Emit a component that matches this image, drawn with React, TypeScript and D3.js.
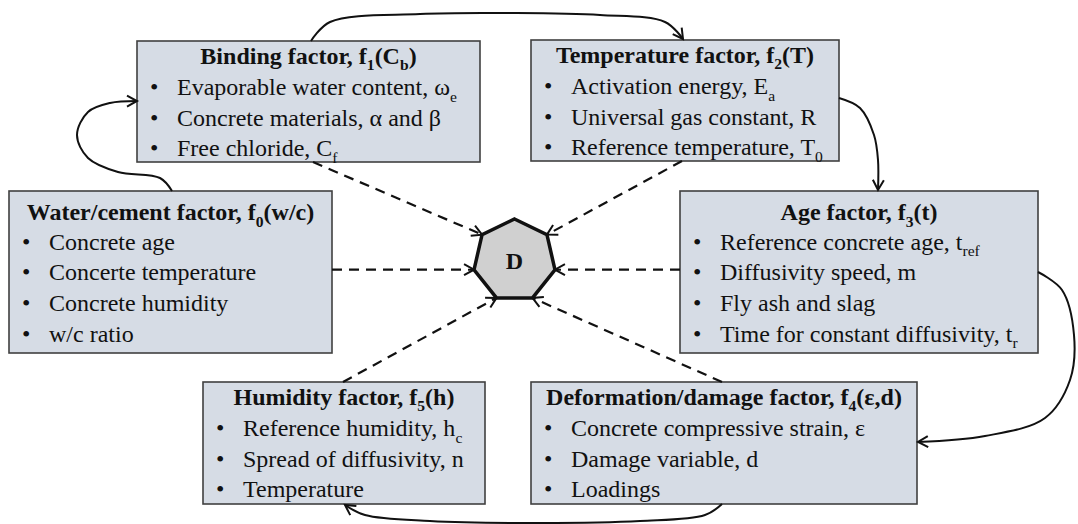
import React from "react";
import * as d3 from "d3";

// ---- Diagram content ----
const boxIds = ["water", "binding", "temperature", "age", "deformation", "humidity"];
const boxTitles = [
  "Water/cement factor, f_{0}(w/c)",
  "Binding factor, f_{1}(C_{b})",
  "Temperature factor, f_{2}(T)",
  "Age factor, f_{3}(t)",
  "Deformation/damage factor, f_{4}(ε,d)",
  "Humidity factor, f_{5}(h)",
];
const waterItems = ["Concrete age", "Concerte temperature", "Concrete humidity", "w/c ratio"];
const bindingItems = ["Evaporable water content, ω_{e}", "Concrete materials, α and β", "Free chloride, C_{f}"];
const temperatureItems = ["Activation energy, E_{a}", "Universal gas constant, R", "Reference temperature, T_{0}"];
const ageItems = ["Reference concrete age, t_{ref}", "Diffusivity speed, m", "Fly ash and slag", "Time for constant diffusivity, t_{r}"];
const deformationItems = ["Concrete compressive strain, ε", "Damage variable, d", "Loadings"];
const humidityItems = ["Reference humidity, h_{c}", "Spread of diffusivity, n", "Temperature"];
const boxItems = [waterItems, bindingItems, temperatureItems, ageItems, deformationItems, humidityItems];
const centerLabel = "D";

// ---- Layout (pixels) ----
const W = 1078, H = 524;
const layout: Record<string, { x0: number; y0: number; x1: number; y1: number }> = {
  water: { x0: 9, y0: 191, x1: 332, y1: 353 },
  binding: { x0: 137, y0: 41, x1: 480, y1: 162 },
  temperature: { x0: 531, y0: 40, x1: 839, y1: 161 },
  age: { x0: 680, y0: 191, x1: 1038, y1: 353 },
  deformation: { x0: 531, y0: 382, x1: 917, y1: 504 },
  humidity: { x0: 203, y0: 382, x1: 485, y1: 504 },
};
const hept = { cx: 514.5, cy: 260.5, r: 41.5 };
const FONT = "Liberation Serif";
const FS = 24;

function heptVertex(k: number): [number, number] {
  const a = -Math.PI / 2 + (k * 2 * Math.PI) / 7;
  return [hept.cx + hept.r * Math.cos(a), hept.cy + hept.r * Math.sin(a)];
}

const dashedLinks: { from: [number, number]; v: number }[] = [
  { from: [313, 162], v: 6 },
  { from: [682, 161], v: 1 },
  { from: [332, 269.6], v: 5 },
  { from: [680, 269.6], v: 2 },
  { from: [343, 382], v: 4 },
  { from: [722, 382], v: 3 },
];

const cyclePaths: [number, number][][] = [
  [[172, 191], [160, 178], [118, 172], [88, 158], [77, 135], [88, 112], [110, 103], [137, 101]],
  [[311, 41], [330, 22], [420, 14], [510, 13], [600, 15], [665, 22], [683, 39]],
  [[839, 98], [860, 108], [874, 135], [878, 160], [878, 190]],
  [[1038, 272], [1062, 290], [1074, 335], [1070, 380], [1045, 418], [985, 436], [918, 442]],
  [[722, 504], [705, 515], [640, 521], [540, 523], [430, 521], [365, 515], [345, 505]],
];

function parse(text: string) {
  const parts: { t: string; sub: boolean }[] = [];
  const re = /_\{([^}]*)\}/g;
  let last = 0;
  let m: RegExpExecArray | null;
  while ((m = re.exec(text))) {
    if (m.index > last) parts.push({ t: text.slice(last, m.index), sub: false });
    parts.push({ t: m[1], sub: true });
    last = m.index + m[0].length;
  }
  if (last < text.length) parts.push({ t: text.slice(last), sub: false });
  return parts;
}

export default function App() {
  const ref = React.useRef<SVGSVGElement>(null);
  React.useEffect(() => {
    const svg = d3.select(ref.current);
    svg.selectAll("*").remove();
    const defs = svg.append("defs");
    defs.append("marker").attr("id", "arr").attr("markerUnits", "userSpaceOnUse")
      .attr("markerWidth", 16).attr("markerHeight", 16).attr("refX", 12).attr("refY", 7).attr("orient", "auto")
      .append("path").attr("d", "M2,1.5 L12,7 L2,12.5").attr("fill", "none").attr("stroke", "#111").attr("stroke-width", 2);

    const addText = (g: any, str: string, x: number, y: number, bold: boolean, anchor: string) => {
      const t = g.append("text").attr("x", x).attr("y", y)
        .attr("font-family", FONT).attr("font-size", FS)
        .attr("font-weight", bold ? "bold" : "normal").attr("text-anchor", anchor).attr("fill", "#111");
      const subShift = FS * 0.28;
      let cur = 0;
      parse(str).forEach((p) => {
        const dy = (p.sub ? subShift : 0) - cur;
        cur = p.sub ? subShift : 0;
        t.append("tspan").attr("dy", dy).attr("font-size", p.sub ? FS * 0.65 : FS).text(p.t);
      });
    };

    boxIds.forEach((id, i) => {
      const b = layout[id];
      const items = boxItems[i];
      const four = items.length === 4;
      const titleY = b.y0 + (four ? 29 : 22.5);
      const firstY = b.y0 + (four ? 58.5 : 54);
      const step = 30.7;
      const g = svg.append("g");
      g.append("rect").attr("x", b.x0).attr("y", b.y0).attr("width", b.x1 - b.x0).attr("height", b.y1 - b.y0)
        .attr("fill", "#d6dce5").attr("stroke", "#404040").attr("stroke-width", 1.6);
      addText(g, boxTitles[i], (b.x0 + b.x1) / 2, titleY, true, "middle");
      items.forEach((it, j) => {
        g.append("text").attr("x", b.x0 + 13).attr("y", firstY + j * step)
          .attr("font-family", FONT).attr("font-size", FS).attr("fill", "#111").text("•");
        addText(g, it, b.x0 + 40, firstY + j * step, false, "start");
      });
    });

    dashedLinks.forEach((l) => {
      const t = heptVertex(l.v);
      svg.append("line").attr("x1", l.from[0]).attr("y1", l.from[1]).attr("x2", t[0]).attr("y2", t[1])
        .attr("stroke", "#111").attr("stroke-width", 2.2).attr("stroke-dasharray", "10 7").attr("marker-end", "url(#arr)");
    });

    const line = d3.line().curve(d3.curveCatmullRom.alpha(0.5));
    cyclePaths.forEach((p) => {
      svg.append("path").attr("d", line(p) || "").attr("fill", "none").attr("stroke", "#111")
        .attr("stroke-width", 2).attr("marker-end", "url(#arr)");
    });

    const heptPts = d3.range(7).map(heptVertex);
    svg.append("polygon").attr("points", heptPts.map((p) => p.join(",")).join(" "))
      .attr("fill", "#d0d0d0").attr("stroke", "#111").attr("stroke-width", 3.5);
    svg.append("text").attr("x", hept.cx).attr("y", hept.cy + 8).attr("text-anchor", "middle")
      .attr("font-family", FONT).attr("font-weight", "bold").attr("font-size", 24).attr("fill", "#111").text(centerLabel);
  }, []);
  return <svg ref={ref} width={W} height={H} style={{ position: "absolute", left: 0, top: 0 }} />;
}
